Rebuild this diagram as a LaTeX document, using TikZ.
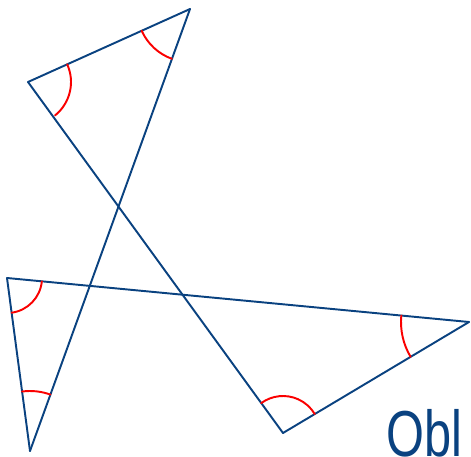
\documentclass[tikz,border=0pt]{standalone}
\usepackage{fontspec}
\newfontfamily\handfont{Liberation Sans}
\definecolor{inkblue}{RGB}{10,66,128}
\definecolor{inkred}{RGB}{250,0,0}
\begin{document}
\begin{tikzpicture}[
    x=0.02cm, y=-0.02cm,
    side/.style={draw=inkblue, line width=1.1pt, line cap=round},
    ang/.style={draw=inkred, line width=1.1pt, line cap=round},
    hand/.style={text=inkblue, font=\handfont\fontsize{37}{40}\selectfont, inner sep=0pt, anchor=north west}
]
    \useasboundingbox (0,0) rectangle (471,457);
    \clip (0,0) rectangle (471,457);

    \coordinate (A) at (28,82);
    \coordinate (B) at (190,9);
    \coordinate (C) at (283,433);
    \coordinate (D) at (30,451);
    \coordinate (E) at (7,278);
    \coordinate (F) at (469,322);

    \draw[side] (A) -- (B);
    \draw[side] (B) -- (D);
    \draw[side] (A) -- (C);
    \draw[side] (E) -- (F);
    \draw[side] (E) -- (D);
    \draw[side] (F) -- (C);

    \draw[ang] (A) ++(-24.3:43) arc[start angle=-24.3, end angle=51, radius=43];
    \draw[ang] (B) ++(110:53) arc[start angle=110, end angle=155.7, radius=53];
    \draw[ang] (E) ++(5.4:35) arc[start angle=5.4, end angle=82.4, radius=35];
    \draw[ang] (D) ++(-97.6:60) arc[start angle=-97.6, end angle=-70.1, radius=60];
    \draw[ang] (F) ++(149.2:68) arc[start angle=149.2, end angle=185.4, radius=68];
    \draw[ang] (C) ++(-126:37) arc[start angle=-126, end angle=-30.8, radius=37];

    \node[hand] (word) at (386,409) {\scalebox{0.75}[1]{Obl}};
\end{tikzpicture}
\end{document}
